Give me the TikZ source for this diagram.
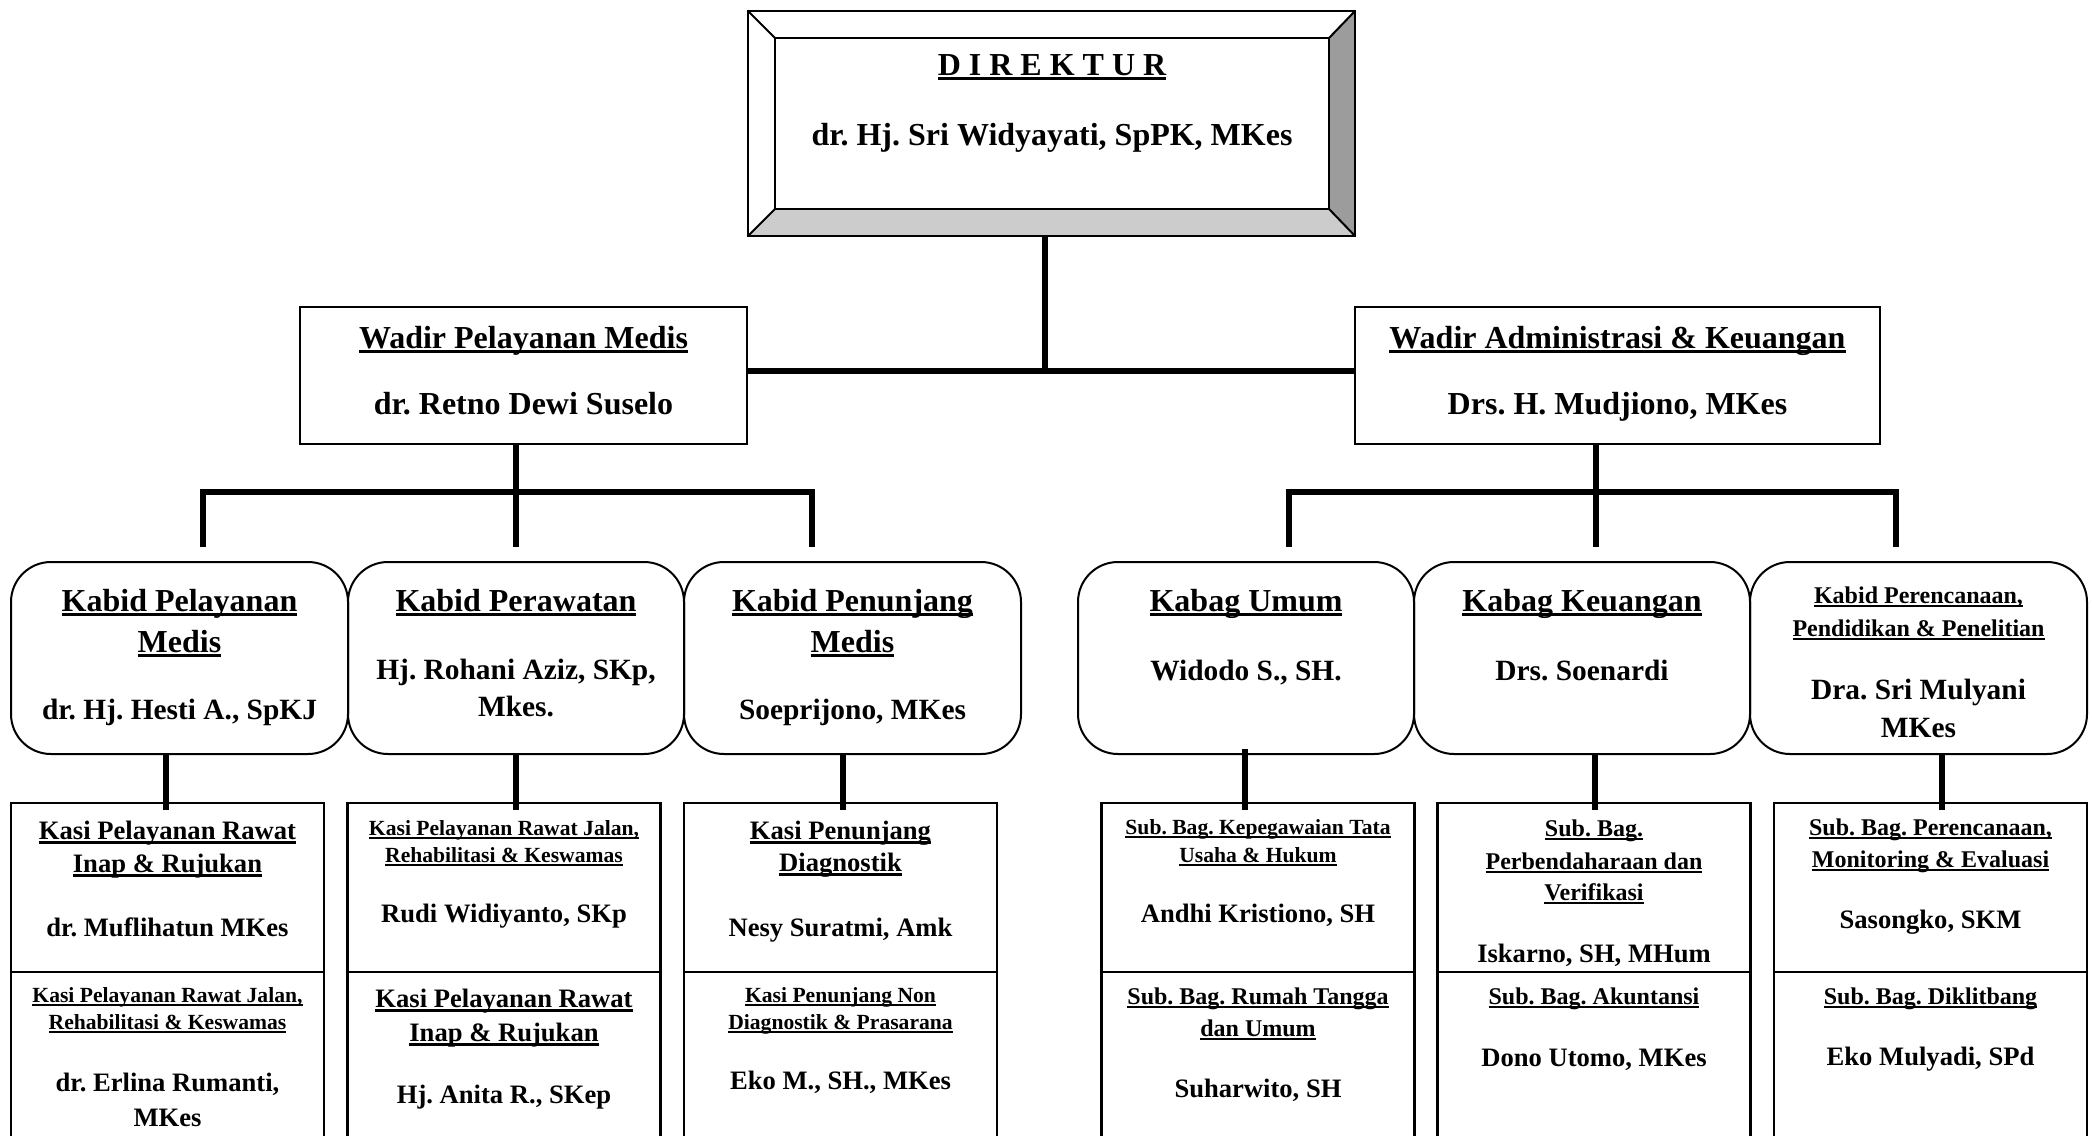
\documentclass[tikz,border=0pt]{standalone}
\usepackage{fontspec}
\setmainfont{Liberation Serif}
\usetikzlibrary{calc}
\definecolor{bevdark}{HTML}{9C9C9C}
\definecolor{bevlight}{HTML}{CCCCCC}
\frenchspacing
\newcommand\ulin[1]{\leavevmode\setbox0\hbox{#1}\rlap{\vrule width\wd0 height -0.07em depth 0.17em}\box0}
\newcommand\txl[5]{\node[tx=#4] (#1) at (#2,#3) {#5};}
\tikzset{
  tx/.style={anchor=base, inner sep=0, font=\bfseries\frenchspacing\fontsize{#1}{#1}\selectfont},
  boxline/.style={line width=1pt},
  cellbox/.style={draw, line width=1.1pt, rectangle, inner sep=0, minimum width=156.5pt},
  kabbox/.style={draw, line width=1pt, rounded corners=20pt, rectangle, inner sep=0, minimum height=96pt},
  wadbox/.style={draw, line width=1pt, rectangle, inner sep=0, minimum height=68.5pt},
  conn/.style={line width=2.8pt, line cap=butt, line join=miter},
}
\begin{document}
\begin{tikzpicture}[x=0.5pt, y=-0.5pt]
\useasboundingbox (0,0) rectangle (2092,1135);
\clip (0,0) rectangle (2092,1135);
\fill[white] (0,0) rectangle (2092,1135);

% ---------- Direktur (bevel box) ----------
\node[rectangle, inner sep=0, minimum width=303.5pt, minimum height=112.5pt] (dir) at (1051.5,123.5) {};
\coordinate (iNW) at ($(dir.north west)+(27,27)$);
\coordinate (iNE) at ($(dir.north east)+(-26,27)$);
\coordinate (iSE) at ($(dir.south east)+(-26,-27)$);
\coordinate (iSW) at ($(dir.south west)+(27,-27)$);
\fill[bevdark] (dir.north east) -- (dir.south east) -- (iSE) -- (iNE) -- cycle;
\fill[bevlight] (dir.south west) -- (dir.south east) -- (iSE) -- (iSW) -- cycle;
\draw[boxline] (dir.north west) rectangle (dir.south east);
\draw[boxline] (iNW) rectangle (iSE);
\draw[boxline] (dir.north west) -- (iNW);
\draw[boxline] (dir.north east) -- (iNE);
\draw[boxline] (dir.south east) -- (iSE);
\draw[boxline] (dir.south west) -- (iSW);
\txl{d1}{1052}{75}{16}{\ulin{D I R E K T U R}}
\txl{d2}{1052}{145}{16}{dr. Hj. Sri Widyayati, SpPK, MKes}

% ---------- Wadir ----------
\node[wadbox, minimum width=223.5pt] (wadL) at (523.5,375.5) {};
\node[wadbox, minimum width=262.5pt] (wadR) at (1617.5,375.5) {};
\txl{w1}{523.5}{348}{16}{\ulin{Wadir Pelayanan Medis}}
\txl{w2}{523.5}{414}{16}{dr. Retno Dewi Suselo}
\txl{w3}{1617.5}{348}{16}{\ulin{Wadir Administrasi \& Keuangan}}
\txl{w4}{1617.5}{414}{16}{Drs. H. Mudjiono, MKes}

\coordinate (jD) at (1045,371);
\draw[conn] (jD |- dir.south) -- (jD);
\draw[conn] (jD -| wadL.east) -- (jD -| wadR.west);

% ---------- Kabid / Kabag ----------
\node[kabbox, minimum width=168.5pt] (kb1) at (179.5,658) {};
\node[kabbox, minimum width=168pt]   (kb2) at (516,658) {};
\node[kabbox, minimum width=168.5pt] (kb3) at (852.5,658) {};
\node[kabbox, minimum width=168pt]   (kb4) at (1246,658) {};
\node[kabbox, minimum width=168pt]   (kb5) at (1582,658) {};
\node[kabbox, minimum width=168.5pt] (kb6) at (1918.5,658) {};

\txl{k11}{179.5}{611}{16}{\ulin{Kabid Pelayanan}}
\txl{k12}{179.5}{652}{16}{\ulin{Medis}}
\txl{k13}{179.5}{719}{14.7}{dr. Hj. Hesti A., SpKJ}
\txl{k21}{516}{611}{16}{\ulin{Kabid Perawatan}}
\txl{k22}{516}{679}{14.7}{Hj. Rohani Aziz, SKp,}
\txl{k23}{516}{716}{14.7}{Mkes.}
\txl{k31}{852.5}{611}{16}{\ulin{Kabid Penunjang}}
\txl{k32}{852.5}{652}{16}{\ulin{Medis}}
\txl{k33}{852.5}{719}{14.7}{Soeprijono, MKes}
\txl{k41}{1246}{611}{16}{\ulin{Kabag Umum}}
\txl{k42}{1246}{680}{14.7}{Widodo S., SH.}
\txl{k51}{1582}{611}{16}{\ulin{Kabag Keuangan}}
\txl{k52}{1582}{680}{14.7}{Drs. Soenardi}
\txl{k61}{1918.5}{603}{12}{\ulin{Kabid Perencanaan,}}
\txl{k62}{1918.5}{636}{12}{\ulin{Pendidikan \& Penelitian}}
\txl{k63}{1918.5}{699}{14.7}{Dra. Sri Mulyani}
\txl{k64}{1918.5}{737}{14.7}{MKes}

% left tree
\coordinate (jL) at (516,492);
\coordinate (dL1) at (203,547);
\coordinate (dL2) at (516,547);
\coordinate (dL3) at (812,547);
\draw[conn] (jL |- wadL.south) -- (jL);
\draw[conn] (dL1) |- (jL) -| (dL3);
\draw[conn] (jL) -- (dL2);
% right tree
\coordinate (jR) at (1596,492);
\coordinate (dR1) at (1289,547);
\coordinate (dR2) at (1596,547);
\coordinate (dR3) at (1896,547);
\draw[conn] (jR |- wadR.south) -- (jR);
\draw[conn] (dR1) |- (jR) -| (dR3);
\draw[conn] (jR) -- (dR2);

% ---------- Kasi / Sub. Bag. cells ----------
\node[cellbox, minimum height=84.5pt] (a1) at (167.5,887.5) {};
\node[cellbox, minimum height=84.5pt] (a2) at (504,887.5) {};
\node[cellbox, minimum height=84.5pt] (a3) at (840.5,887.5) {};
\node[cellbox, minimum height=84.5pt] (a4) at (1258,887.5) {};
\node[cellbox, minimum height=84.5pt] (a5) at (1594,887.5) {};
\node[cellbox, minimum height=84.5pt] (a6) at (1930.5,887.5) {};
\node[cellbox, minimum height=94pt] (b1) at (167.5,1066) {};
\node[cellbox, minimum height=94pt] (b2) at (504,1066) {};
\node[cellbox, minimum height=94pt] (b3) at (840.5,1066) {};
\node[cellbox, minimum height=94pt] (b4) at (1258,1066) {};
\node[cellbox, minimum height=94pt] (b5) at (1594,1066) {};
\node[cellbox, minimum height=94pt] (b6) at (1930.5,1066) {};

% drops Kabid -> Kasi
\coordinate (e1) at (166,810);
\coordinate (e2) at (516,810);
\coordinate (e3) at (843,810);
\coordinate (e4) at (1245,810);
\coordinate (e5) at (1595,810);
\coordinate (e6) at (1942,810);
\draw[conn] (e1 |- kb1.south) -- (e1);
\draw[conn] (e2 |- kb2.south) -- (e2);
\draw[conn] (e3 |- kb3.south) -- (e3);
\draw[conn] ($(e4 |- kb4.south)+(0,-6)$) -- (e4);
\draw[conn] (e5 |- kb5.south) -- (e5);
\draw[conn] (e6 |- kb6.south) -- (e6);

% column 1
\txl{s11}{167.5}{839}{13.3}{\ulin{Kasi Pelayanan Rawat}}
\txl{s12}{167.5}{872}{13.3}{\ulin{Inap \& Rujukan}}
\txl{s13}{167.5}{936}{13.3}{dr. Muflihatun MKes}
\txl{s14}{167.5}{1002}{10.8}{\ulin{Kasi Pelayanan Rawat Jalan,}}
\txl{s15}{167.5}{1029}{10.8}{\ulin{Rehabilitasi \& Keswamas}}
\txl{s16}{167.5}{1091}{13.3}{dr. Erlina Rumanti,}
\txl{s17}{167.5}{1126}{13.3}{MKes}
% column 2
\txl{s21}{504}{835}{10.8}{\ulin{Kasi Pelayanan Rawat Jalan,}}
\txl{s22}{504}{862}{10.8}{\ulin{Rehabilitasi \& Keswamas}}
\txl{s23}{504}{922}{13.3}{Rudi Widiyanto, SKp}
\txl{s24}{504}{1007}{13.3}{\ulin{Kasi Pelayanan Rawat}}
\txl{s25}{504}{1041}{13.3}{\ulin{Inap \& Rujukan}}
\txl{s26}{504}{1103}{13.3}{Hj. Anita R., SKep}
% column 3
\txl{s31}{840.5}{839}{13.3}{\ulin{Kasi Penunjang}}
\txl{s32}{840.5}{871}{13.3}{\ulin{Diagnostik}}
\txl{s33}{840.5}{936}{13.3}{Nesy Suratmi, Amk}
\txl{s34}{840.5}{1002}{10.8}{\ulin{Kasi Penunjang Non}}
\txl{s35}{840.5}{1029}{10.8}{\ulin{Diagnostik \& Prasarana}}
\txl{s36}{840.5}{1089}{13.3}{Eko M., SH., MKes}
% column 4
\txl{s41}{1258}{834}{10.8}{\ulin{Sub. Bag. Kepegawaian Tata}}
\txl{s42}{1258}{862}{10.8}{\ulin{Usaha \& Hukum}}
\txl{s43}{1258}{922}{13.3}{Andhi Kristiono, SH}
\txl{s44}{1258}{1004}{12}{\ulin{Sub. Bag. Rumah Tangga}}
\txl{s45}{1258}{1036}{12}{\ulin{dan Umum}}
\txl{s46}{1258}{1097}{13.3}{Suharwito, SH}
% column 5
\txl{s51}{1594}{836}{12}{\ulin{Sub. Bag.}}
\txl{s52}{1594}{869}{12}{\ulin{Perbendaharaan dan}}
\txl{s53}{1594}{900}{12}{\ulin{Verifikasi}}
\txl{s54}{1594}{962}{13.3}{Iskarno, SH, MHum}
\txl{s55}{1594}{1004}{12}{\ulin{Sub. Bag. Akuntansi}}
\txl{s56}{1594}{1066}{13.3}{Dono Utomo, MKes}
% column 6
\txl{s61}{1930.5}{835}{12}{\ulin{Sub. Bag. Perencanaan,}}
\txl{s62}{1930.5}{867}{12}{\ulin{Monitoring \& Evaluasi}}
\txl{s63}{1930.5}{928}{13.3}{Sasongko, SKM}
\txl{s64}{1930.5}{1004}{12}{\ulin{Sub. Bag. Diklitbang}}
\txl{s65}{1930.5}{1065}{13.3}{Eko Mulyadi, SPd}
\end{tikzpicture}
\end{document}
